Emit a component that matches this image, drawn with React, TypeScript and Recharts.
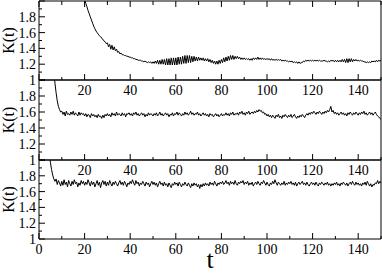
import { LineChart, Line, XAxis, YAxis } from 'recharts'

const FONT = '"Liberation Serif", "DejaVu Serif", serif'

const T_TICKS = [0, 10, 20, 30, 40, 50, 60, 70, 80, 90, 100, 110, 120, 130, 140, 150]
const K_TICKS = [1, 1.1, 1.2, 1.3, 1.4, 1.5, 1.6, 1.7, 1.8, 1.9, 2]

const T_STEP = 0.5

const TOP_START = 16
const K_TOP = [
  2.60, 2.50, 2.40, 2.32, 2.25, 2.18, 2.12, 2.07,
  2.02, 1.97, 1.93, 1.88, 1.84, 1.80, 1.76, 1.72, 1.68, 1.65,
  1.62, 1.60, 1.58, 1.56, 1.55, 1.53, 1.51, 1.50, 1.48, 1.46,
  1.47, 1.42, 1.45, 1.39, 1.44, 1.38, 1.42, 1.37, 1.39, 1.35,
  1.36, 1.33, 1.34, 1.32, 1.32, 1.31, 1.31, 1.30, 1.30, 1.29,
  1.29, 1.28, 1.28, 1.27, 1.27, 1.26, 1.26, 1.25, 1.25, 1.25,
  1.24, 1.24, 1.23, 1.24, 1.23, 1.22, 1.23, 1.22, 1.23, 1.21,
  1.23, 1.21, 1.24, 1.21, 1.25, 1.20, 1.25, 1.20, 1.26, 1.20,
  1.26, 1.19, 1.27, 1.19, 1.27, 1.19, 1.28, 1.19, 1.28, 1.19,
  1.28, 1.19, 1.29, 1.20, 1.29, 1.20, 1.30, 1.21, 1.31, 1.21,
  1.31, 1.22, 1.31, 1.22, 1.30, 1.23, 1.30, 1.24, 1.29, 1.24,
  1.29, 1.25, 1.28, 1.25, 1.28, 1.24, 1.27, 1.24, 1.27, 1.23,
  1.26, 1.22, 1.25, 1.21, 1.24, 1.20, 1.24, 1.20, 1.25, 1.21,
  1.26, 1.22, 1.28, 1.23, 1.29, 1.24, 1.30, 1.25, 1.31, 1.26,
  1.31, 1.26, 1.30, 1.27, 1.30, 1.27, 1.29, 1.26, 1.28, 1.26,
  1.28, 1.26, 1.27, 1.26, 1.27, 1.25, 1.27, 1.25, 1.28, 1.26,
  1.28, 1.26, 1.29, 1.26, 1.28, 1.26, 1.28, 1.26, 1.27, 1.26,
  1.27, 1.26, 1.27, 1.25, 1.27, 1.25, 1.26, 1.25, 1.26, 1.25,
  1.26, 1.25, 1.26, 1.24, 1.25, 1.24, 1.25, 1.24, 1.24, 1.23,
  1.24, 1.23, 1.24, 1.22, 1.23, 1.22, 1.23, 1.21, 1.23, 1.21,
  1.22, 1.22, 1.24, 1.23, 1.25, 1.24, 1.25, 1.24, 1.25, 1.24,
  1.25, 1.24, 1.25, 1.24, 1.25, 1.24, 1.25, 1.24, 1.24, 1.24,
  1.25, 1.24, 1.24, 1.23, 1.24, 1.23, 1.25, 1.24, 1.25, 1.23,
  1.25, 1.23, 1.25, 1.23, 1.25, 1.23, 1.26, 1.23, 1.26, 1.22,
  1.27, 1.22, 1.27, 1.23, 1.27, 1.23, 1.26, 1.24, 1.26, 1.24,
  1.25, 1.24, 1.25, 1.24, 1.24, 1.23, 1.23, 1.22, 1.23, 1.22,
  1.23, 1.22, 1.24, 1.23, 1.24, 1.23, 1.25, 1.23, 1.25, 1.24,
  1.25,
]

const MID_START = 6
const K_MID = [
  2.30, 2.10, 1.96, 1.84, 1.74, 1.67, 1.63, 1.60,
  1.61, 1.57, 1.60, 1.55, 1.61, 1.57, 1.58, 1.56, 1.60, 1.57,
  1.61, 1.56, 1.59, 1.57, 1.55, 1.60, 1.56, 1.59, 1.57, 1.58,
  1.55, 1.58, 1.54, 1.57, 1.56, 1.53, 1.58, 1.55, 1.57, 1.54,
  1.56, 1.53, 1.57, 1.54, 1.55, 1.52, 1.56, 1.53, 1.57, 1.55,
  1.58, 1.55, 1.57, 1.54, 1.59, 1.56, 1.58, 1.55, 1.60, 1.56,
  1.58, 1.57, 1.55, 1.59, 1.56, 1.58, 1.54, 1.58, 1.57, 1.59,
  1.56, 1.58, 1.55, 1.59, 1.57, 1.60, 1.56, 1.58, 1.55, 1.57,
  1.59, 1.56, 1.58, 1.54, 1.57, 1.55, 1.59, 1.56, 1.58, 1.57,
  1.55, 1.58, 1.56, 1.59, 1.55, 1.57, 1.60, 1.56, 1.58, 1.55,
  1.57, 1.59, 1.56, 1.58, 1.54, 1.57, 1.56, 1.59, 1.55, 1.58,
  1.57, 1.60, 1.56, 1.59, 1.57, 1.55, 1.58, 1.56, 1.60, 1.57,
  1.59, 1.56, 1.58, 1.61, 1.57, 1.59, 1.56, 1.58, 1.57, 1.60,
  1.56, 1.58, 1.55, 1.57, 1.59, 1.56, 1.58, 1.55, 1.57, 1.54,
  1.58, 1.56, 1.57, 1.54, 1.56, 1.58, 1.55, 1.57, 1.54, 1.56,
  1.58, 1.55, 1.57, 1.56, 1.59, 1.56, 1.58, 1.55, 1.59, 1.57,
  1.60, 1.56, 1.58, 1.57, 1.59, 1.56, 1.60, 1.58, 1.61, 1.57,
  1.59, 1.56, 1.60, 1.58, 1.61, 1.57, 1.59, 1.60, 1.58, 1.61,
  1.59, 1.62, 1.60, 1.63, 1.61, 1.62, 1.59, 1.60, 1.57, 1.58,
  1.55, 1.57, 1.54, 1.56, 1.53, 1.56, 1.54, 1.52, 1.56, 1.54,
  1.57, 1.53, 1.55, 1.52, 1.56, 1.54, 1.57, 1.55, 1.53, 1.56,
  1.54, 1.57, 1.53, 1.55, 1.57, 1.54, 1.52, 1.55, 1.53, 1.56,
  1.54, 1.57, 1.55, 1.53, 1.56, 1.58, 1.56, 1.59, 1.57, 1.60,
  1.58, 1.61, 1.59, 1.57, 1.60, 1.58, 1.61, 1.59, 1.57, 1.60,
  1.58, 1.61, 1.59, 1.62, 1.60, 1.63, 1.67, 1.60, 1.62, 1.58,
  1.60, 1.57, 1.59, 1.56, 1.58, 1.60, 1.57, 1.59, 1.56, 1.58,
  1.55, 1.59, 1.57, 1.60, 1.58, 1.56, 1.59, 1.57, 1.60, 1.58,
  1.56, 1.59, 1.57, 1.60, 1.58, 1.61, 1.57, 1.59, 1.56, 1.58,
  1.60, 1.57, 1.59, 1.56, 1.58, 1.60, 1.57, 1.55, 1.54, 1.52,
  1.51,
]

const BOT_START = 3
const K_BOT = [
  2.60, 2.40, 2.22, 2.08, 1.97, 1.88, 1.81, 1.76, 1.73, 1.76, 1.69, 1.74, 1.71, 1.67,
  1.73, 1.68, 1.75, 1.69, 1.72, 1.66, 1.74, 1.70, 1.67, 1.73,
  1.69, 1.75, 1.70, 1.72, 1.66, 1.71, 1.68, 1.74, 1.70, 1.73,
  1.68, 1.72, 1.69, 1.75, 1.71, 1.67, 1.73, 1.69, 1.72, 1.66,
  1.70, 1.74, 1.68, 1.72, 1.65, 1.71, 1.74, 1.69, 1.73, 1.67,
  1.72, 1.68, 1.74, 1.70, 1.67, 1.72, 1.69, 1.73, 1.70, 1.67,
  1.71, 1.74, 1.69, 1.72, 1.68, 1.73, 1.70, 1.66, 1.71, 1.69,
  1.73, 1.70, 1.75, 1.71, 1.68, 1.74, 1.70, 1.72, 1.67, 1.71,
  1.69, 1.73, 1.70, 1.67, 1.72, 1.69, 1.71, 1.66, 1.70, 1.73,
  1.69, 1.72, 1.68, 1.71, 1.66, 1.70, 1.73, 1.69, 1.71, 1.67,
  1.72, 1.68, 1.70, 1.66, 1.71, 1.68, 1.65, 1.70, 1.68, 1.72,
  1.69, 1.71, 1.67, 1.72, 1.69, 1.66, 1.70, 1.68, 1.72, 1.69,
  1.67, 1.71, 1.68, 1.65, 1.70, 1.67, 1.71, 1.68, 1.70, 1.66,
  1.69, 1.64, 1.69, 1.66, 1.70, 1.67, 1.71, 1.68, 1.70, 1.67,
  1.72, 1.69, 1.71, 1.68, 1.73, 1.70, 1.67, 1.71, 1.69, 1.72,
  1.70, 1.73, 1.69, 1.71, 1.74, 1.70, 1.72, 1.68, 1.73, 1.70,
  1.72, 1.69, 1.74, 1.70, 1.68, 1.72, 1.70, 1.73, 1.71, 1.74,
  1.69, 1.72, 1.70, 1.73, 1.68, 1.71, 1.69, 1.72, 1.67, 1.70,
  1.72, 1.69, 1.73, 1.70, 1.68, 1.72, 1.70, 1.74, 1.71, 1.68,
  1.72, 1.69, 1.67, 1.71, 1.69, 1.73, 1.70, 1.75, 1.71, 1.68,
  1.72, 1.70, 1.68, 1.71, 1.69, 1.73, 1.68, 1.71, 1.69, 1.72,
  1.70, 1.73, 1.69, 1.71, 1.68, 1.72, 1.67, 1.70, 1.72, 1.69,
  1.71, 1.73, 1.69, 1.71, 1.68, 1.72, 1.69, 1.67, 1.70, 1.72,
  1.69, 1.71, 1.68, 1.72, 1.69, 1.67, 1.71, 1.69, 1.72, 1.70,
  1.68, 1.71, 1.69, 1.72, 1.68, 1.70, 1.67, 1.70, 1.68, 1.71,
  1.69, 1.72, 1.68, 1.70, 1.67, 1.71, 1.69, 1.72, 1.70, 1.68,
  1.71, 1.67, 1.70, 1.72, 1.69, 1.73, 1.70, 1.68, 1.72, 1.69,
  1.71, 1.68, 1.70, 1.67, 1.71, 1.69, 1.72, 1.68, 1.73, 1.70,
  1.67, 1.70, 1.66, 1.69, 1.68, 1.71, 1.70, 1.74, 1.70, 1.73,
  1.71,
]

const toRows = (start: number, ks: number[]) => ks.map((k, i) => ({ t: start + i * T_STEP, k }))

const isMajorK = (v: number) => Math.round(v * 10) % 2 === 0

function BottomTick(props: any) {
  const { x, y, payload, withZero } = props
  const v = payload.value
  const major = v % 20 === 0
  const show = major && v !== 150 && (v !== 0 || withZero)
  return (
    <g>
      <line x1={x} x2={x} y1={y} y2={y - (major ? 6 : 3)} stroke="#000" />
      {show && (
        <text x={x} y={y + 15} textAnchor="middle" fontSize={14} fontFamily={FONT} fill="#000">
          {v}
        </text>
      )}
    </g>
  )
}

function TopTick(props: any) {
  const { x, y, payload } = props
  const major = payload.value % 20 === 0
  return <line x1={x} x2={x} y1={y} y2={y + (major ? 6 : 4)} stroke="#000" />
}

function LeftTick(props: any) {
  const { x, y, payload } = props
  const v = payload.value
  const major = isMajorK(v)
  return (
    <g>
      <line x1={x} x2={x + (major ? 6 : 3)} y1={y} y2={y} stroke="#000" />
      {major && v < 1.95 && (
        <text x={x - 3} y={y + 5} textAnchor="end" fontSize={14} fontFamily={FONT} fill="#000">
          {v === 1 ? '1' : v.toFixed(1)}
        </text>
      )}
    </g>
  )
}

function RightTick(props: any) {
  const { x, y, payload } = props
  const major = isMajorK(payload.value)
  return <line x1={x} x2={x - (major ? 6 : 3)} y1={y} y2={y} stroke="#000" />
}

function KLabel(props: any) {
  const { viewBox } = props
  const cy = viewBox.y + viewBox.height / 2
  return (
    <text x={14} y={cy} transform={`rotate(-90 14 ${cy})`} textAnchor="middle" fontSize={16} fontFamily={FONT} fill="#000">
      K(t)
    </text>
  )
}

function TLabel(props: any) {
  const { viewBox } = props
  const cx = viewBox.x + viewBox.width / 2
  return (
    <text x={cx} y={268} textAnchor="middle" fontSize={26} fontFamily={FONT} fill="#000">
      t
    </text>
  )
}

// plot area runs from `top` to `height - bottom`; the x axes take 1px each
function Panel({ rows, top, bottom, height, last, topTicks }: any) {
  return (
    <div style={{ position: 'absolute', left: 0, top: 0 }}>
      <LineChart width={382} height={height} data={rows} margin={{ top: top - 1, right: 0, bottom: bottom - 1, left: 0 }}>
        <XAxis
          dataKey="t"
          type="number"
          domain={[0, 150]}
          ticks={T_TICKS}
          interval={0}
          height={1}
          tickSize={0}
          tickMargin={0}
          tickLine={false}
          axisLine={{ stroke: '#000' }}
          tick={(p: any) => <BottomTick {...p} withZero={last} />}
          label={last ? (p: any) => <TLabel {...p} /> : undefined}
        />
        <XAxis
          xAxisId="top"
          orientation="top"
          dataKey="t"
          type="number"
          domain={[0, 150]}
          ticks={T_TICKS}
          interval={0}
          height={1}
          tickSize={0}
          tickMargin={0}
          tickLine={false}
          axisLine={{ stroke: '#000' }}
          tick={topTicks ? (p: any) => <TopTick {...p} /> : false}
        />
        <YAxis
          type="number"
          domain={[1, 2]}
          allowDataOverflow
          ticks={K_TICKS}
          interval={0}
          width={39}
          tickSize={0}
          tickMargin={0}
          tickLine={false}
          axisLine={{ stroke: '#000' }}
          tick={(p: any) => <LeftTick {...p} />}
          label={(p: any) => <KLabel {...p} />}
        />
        <YAxis
          yAxisId="r"
          orientation="right"
          type="number"
          domain={[1, 2]}
          ticks={K_TICKS}
          interval={0}
          width={1}
          tickSize={0}
          tickMargin={0}
          tickLine={false}
          axisLine={{ stroke: '#000' }}
          tick={(p: any) => <RightTick {...p} />}
        />
        <Line
          type="linear"
          dataKey="k"
          stroke="#000"
          strokeWidth={1}
          dot={false}
          isAnimationActive={false}
        />
      </LineChart>
    </div>
  )
}

export default function App() {
  return (
    <div style={{ position: 'absolute', left: 0, top: 0, width: 382, height: 274, background: '#fff' }}>
      <Panel rows={toRows(TOP_START, K_TOP)} top={1} bottom={20} height={100} topTicks />
      <Panel rows={toRows(MID_START, K_MID)} top={80} bottom={20} height={180} />
      <Panel rows={toRows(BOT_START, K_BOT)} top={160} bottom={35} height={274} last />
    </div>
  )
}
